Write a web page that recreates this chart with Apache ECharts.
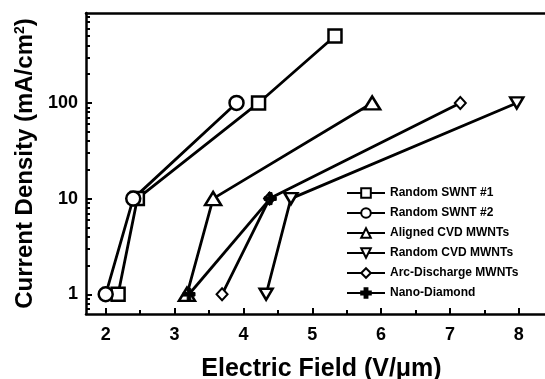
<!DOCTYPE html>
<html>
<head>
<meta charset="utf-8">
<script src="https://cdn.jsdelivr.net/npm/echarts@6/dist/echarts.min.js"></script>
<style>
  html, body { margin: 0; padding: 0; background: #fff; }
  #chart { width: 545px; height: 379px; }
</style>
</head>
<body>
<div id="chart"></div>
<script>
// Field-emission J–E data: electric field (V/µm) at fixed current densities (mA/cm²)
const swnt1Field   = [2.18, 2.46, 4.22, 5.33];
const swnt1Current = [1, 10, 100, 500];
const swnt2Field   = [2.00, 2.40, 3.90];
const swnt2Current = [1, 10, 100];
const alignedField   = [3.18, 3.56, 5.87];
const alignedCurrent = [1, 10, 100];
const randomCvdField   = [4.33, 4.69, 7.97];
const randomCvdCurrent = [1, 10, 100];
const arcField   = [3.69, 4.38, 7.15];
const arcCurrent = [1, 10, 100];
const nanoField   = [3.21, 4.39];
const nanoCurrent = [1, 10];

const seriesNames = [
  'Random SWNT #1', 'Random SWNT #2', 'Aligned CVD MWNTs',
  'Random CVD MWNTs', 'Arc-Discharge MWNTs', 'Nano-Diamond'
];

const xMajorTicks = [2, 3, 4, 5, 6, 7, 8];
const xMinorTicks = [2.5, 3.5, 4.5, 5.5, 6.5, 7.5];
const yMajorTicks = [1, 10, 100];
const yMinorTicks = [0.7, 0.8, 0.9, 2, 3, 4, 5, 6, 7, 8, 9,
                     20, 30, 40, 50, 60, 70, 80, 90,
                     200, 300, 400, 500, 600, 700, 800];

const FONT = "'Liberation Sans', Arial, Helvetica, sans-serif";
const PLUS = 'path://M3.5,0H6.5V3.5H10V6.5H6.5V10H3.5V6.5H0V3.5H3.5Z';

function pairs(xs, ys) { return xs.map((x, i) => [x, ys[i]]); }

function lineSeries(name, xs, ys, symbol, size, extra) {
  return Object.assign({
    name: name,
    type: 'line',
    xAxisIndex: 0,
    yAxisIndex: 0,
    data: pairs(xs, ys),
    symbol: symbol,
    symbolSize: size,
    showAllSymbol: true,
    animation: false,
    lineStyle: { color: '#000', width: 2.8 },
    itemStyle: { color: '#fff', borderColor: '#000', borderWidth: 2.5, opacity: 1 },
    emphasis: { disabled: true }
  }, extra || {});
}

const chart = echarts.init(document.getElementById('chart'));

const xExtent = { min: 1.714, max: 8.38 };
const yExtent = { min: 0.622, max: 871 };

chart.setOption({
  backgroundColor: '#fff',
  animation: false,
  grid: { left: 86, top: 13, right: 0, bottom: 65, containLabel: false, outerBoundsMode: 'none' },
  legend: {
    orient: 'vertical',
    left: 346,
    top: 186,
    padding: 0,
    itemWidth: 38,
    itemHeight: 12,
    itemGap: 6,
    data: seriesNames,
    textStyle: { fontFamily: FONT, fontWeight: 'bold', fontSize: 12, color: '#000', lineHeight: 14 },
    selectedMode: false
  },
  xAxis: [
    {
      type: 'value', position: 'bottom', min: xExtent.min, max: xExtent.max,
      axisLine: { show: true, lineStyle: { color: '#000', width: 2.5 } },
      axisTick: { show: true, inside: true, length: 6, lineStyle: { color: '#000', width: 2 },
                  customValues: xMajorTicks },
      axisLabel: { show: true, customValues: xMajorTicks, margin: 12,
                   fontFamily: FONT, fontWeight: 'bold', fontSize: 18, color: '#000' },
      splitLine: { show: false },
      name: 'Electric Field (V/μm)',
      nameLocation: 'middle',
      nameGap: 43,
      nameTextStyle: { fontFamily: FONT, fontWeight: 'bold', fontSize: 25, color: '#000', padding: [0, 0, 0, 12] }
    },
    {
      type: 'value', position: 'bottom', min: xExtent.min, max: xExtent.max,
      axisLine: { show: false },
      axisTick: { show: true, inside: true, length: 4, lineStyle: { color: '#000', width: 2 },
                  customValues: xMinorTicks },
      axisLabel: { show: false },
      splitLine: { show: false }
    },
    {
      type: 'value', position: 'top', min: xExtent.min, max: xExtent.max,
      axisLine: { show: true, lineStyle: { color: '#000', width: 2.5 } },
      axisTick: { show: false },
      axisLabel: { show: false },
      splitLine: { show: false }
    }
  ],
  yAxis: [
    {
      type: 'log', logBase: 10, position: 'left', min: yExtent.min, max: yExtent.max,
      axisLine: { show: true, lineStyle: { color: '#000', width: 2.5 } },
      axisTick: { show: true, inside: true, length: 6, lineStyle: { color: '#000', width: 2 },
                  customValues: yMajorTicks },
      axisLabel: { show: true, customValues: yMajorTicks, margin: 8,
                   fontFamily: FONT, fontWeight: 'bold', fontSize: 18, color: '#000' },
      splitLine: { show: false },
      name: 'Current Density (mA/cm{s|2})',
      nameLocation: 'middle',
      nameRotate: 90,
      nameGap: 48,
      nameTextStyle: {
        fontFamily: FONT, fontWeight: 'bold', fontSize: 24, color: '#000',
        rich: { s: { fontFamily: FONT, fontWeight: 'bold', fontSize: 14, color: '#000', verticalAlign: 'top', lineHeight: 10 } }
      }
    },
    {
      type: 'log', logBase: 10, position: 'left', min: yExtent.min, max: yExtent.max,
      axisLine: { show: false },
      axisTick: { show: true, inside: true, length: 4, lineStyle: { color: '#000', width: 2 },
                  customValues: yMinorTicks },
      axisLabel: { show: false },
      splitLine: { show: false }
    }
  ],
  series: [
    lineSeries(seriesNames[0], swnt1Field, swnt1Current, 'rect', 13),
    lineSeries(seriesNames[1], swnt2Field, swnt2Current, 'circle', 14),
    lineSeries(seriesNames[2], alignedField, alignedCurrent, 'triangle', [16, 13]),
    lineSeries(seriesNames[3], randomCvdField, randomCvdCurrent, 'triangle', [13, 11], { symbolRotate: 180 }),
    lineSeries(seriesNames[4], arcField, arcCurrent, 'diamond', [11, 12], { itemStyle: { color: '#fff', borderColor: '#000', borderWidth: 2 } }),
    lineSeries(seriesNames[5], nanoField, nanoCurrent, PLUS, 12, {
      itemStyle: { color: '#000', borderColor: '#000', borderWidth: 1 }
    })
  ]
});
</script>
</body>
</html>
